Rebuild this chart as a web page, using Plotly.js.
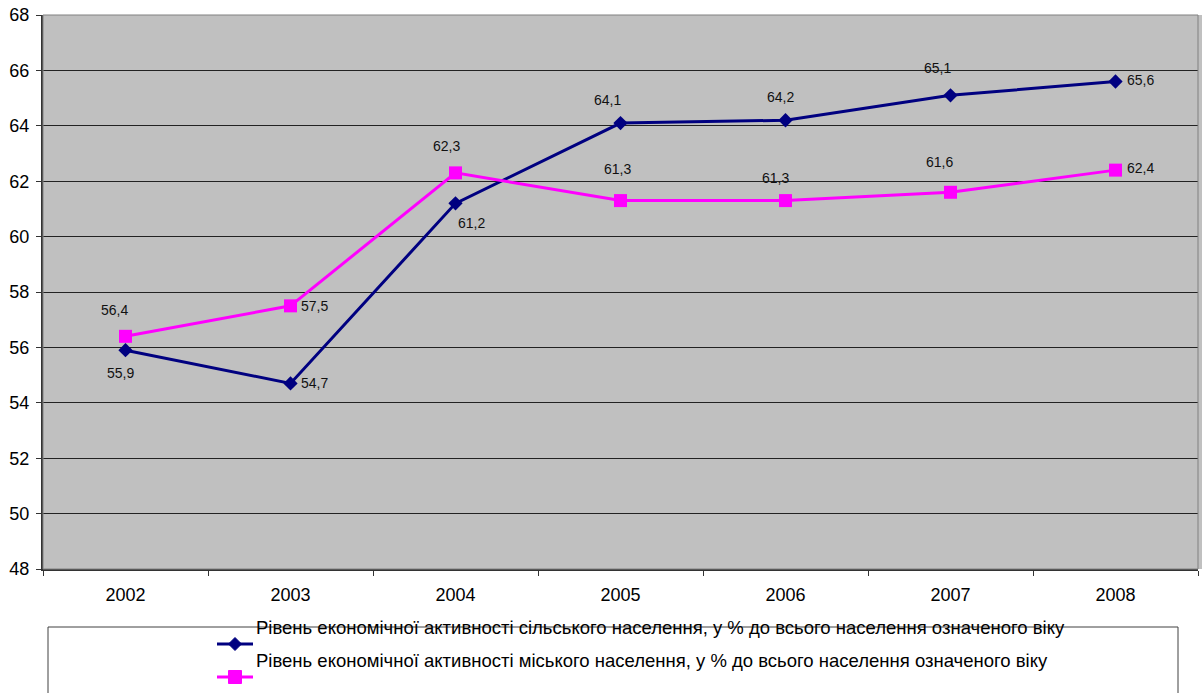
<!DOCTYPE html>
<html>
<head>
<meta charset="utf-8">
<script src="https://cdn.plot.ly/plotly-3.0.1.min.js"></script>
<style>
  html, body { margin: 0; padding: 0; background: #ffffff; }
  #chart { width: 1202px; height: 693px; }
</style>
</head>
<body>
<div id="chart"></div>
<script>
// Economic activity rate, % of population of the given age
const years = ['2002', '2003', '2004', '2005', '2006', '2007', '2008'];
const ruralValues = [55.9, 54.7, 61.2, 64.1, 64.2, 65.1, 65.6];
const urbanValues = [56.4, 57.5, 62.3, 61.3, 61.3, 61.6, 62.4];
const ruralName = 'Рівень економічної активності сільського населення, у % до всього населення означеного віку';
const urbanName = 'Рівень економічної активності міського населення, у % до всього населення означеного віку';
const yTicks = [48, 50, 52, 54, 56, 58, 60, 62, 64, 66, 68];

const RURAL_COLOR = '#000080';
const URBAN_COLOR = '#FF00FF';
const FONT = '"Liberation Sans", Arial, sans-serif';

// Pixel offsets of each value label relative to its point
const ruralLabelShift = [[-5, 23], [24, 0], [16, 20], [-13, -23], [-5, -23], [-13, -27], [25, -1]];
const urbanLabelShift = [[-11, -26], [24, 0], [-9, -27], [-3, -32], [-10, -23], [-11, -30], [25, -2]];

const fmt = v => v.toFixed(1).replace('.', ',');

const traces = [
  {
    x: years, y: ruralValues, name: ruralName, type: 'scatter', mode: 'lines+markers',
    line: { color: RURAL_COLOR, width: 3 },
    marker: { symbol: 'diamond', size: 11, color: RURAL_COLOR },
    hoverinfo: 'x+y', cliponaxis: false
  },
  {
    x: years, y: urbanValues, name: urbanName, type: 'scatter', mode: 'lines+markers',
    line: { color: URBAN_COLOR, width: 3 },
    marker: { symbol: 'square', size: 13, color: URBAN_COLOR },
    hoverinfo: 'x+y', cliponaxis: false
  }
];

const annotations = [];
function addLabels(values, shifts) {
  values.forEach((v, i) => {
    annotations.push({
      // category index of the year on the x axis
      x: i, y: v, xref: 'x', yref: 'y', text: fmt(v), showarrow: false,
      xshift: shifts[i][0], yshift: -shifts[i][1],
      font: { family: FONT, size: 14, color: '#111111' }
    });
  });
}
addLabels(ruralValues, ruralLabelShift);
addLabels(urbanValues, urbanLabelShift);

// Legend drawn in the bottom margin: plot area spans px 43..1198 and py 15..569
const plotL = 43, plotR = 1198, plotT = 15, plotB = 569;
const px = X => (X - plotL) / (plotR - plotL);
const py = Y => (plotB - Y) / (plotB - plotT);

const legendRows = [
  { name: ruralName, color: RURAL_COLOR, textY: 627, symY: 644, symbol: 'diamond' },
  { name: urbanName, color: URBAN_COLOR, textY: 660, symY: 677, symbol: 'square' }
];

const shapes = [
  // grey strip to the right of the plot area
  { type: 'rect', xref: 'paper', yref: 'paper', x0: 1, x1: px(1204), y0: 0, y1: 1,
    fillcolor: '#C0C0C0', line: { width: 0 }, layer: 'below' },
  // plot area border
  { type: 'rect', xref: 'paper', yref: 'paper', x0: 0, x1: 1, y0: 0, y1: 1,
    line: { color: '#808080', width: 1 }, layer: 'above' },
  // legend frame
  { type: 'rect', xref: 'paper', yref: 'paper', x0: px(48), x1: px(1178), y0: py(700), y1: py(627),
    line: { color: '#404040', width: 1 }, fillcolor: 'rgba(0,0,0,0)' }
];

legendRows.forEach(r => {
  const cx = 235;
  shapes.push({ type: 'line', xref: 'paper', yref: 'paper', x0: px(217), x1: px(253), y0: py(r.symY), y1: py(r.symY),
    line: { color: r.color, width: 3 } });
  if (r.symbol === 'diamond') {
    const h = 6.5;
    const path = `M ${px(cx)} ${py(r.symY - h)} L ${px(cx + h)} ${py(r.symY)} L ${px(cx)} ${py(r.symY + h)} L ${px(cx - h)} ${py(r.symY)} Z`;
    shapes.push({ type: 'path', xref: 'paper', yref: 'paper', path: path,
      fillcolor: r.color, line: { color: r.color, width: 1 } });
  } else {
    const h = 6.5;
    shapes.push({ type: 'rect', xref: 'paper', yref: 'paper', x0: px(cx - h), x1: px(cx + h), y0: py(r.symY + h), y1: py(r.symY - h),
      fillcolor: r.color, line: { color: r.color, width: 1 } });
  }
  annotations.push({
    xref: 'paper', yref: 'paper', x: px(254), y: py(r.textY), xanchor: 'left', yanchor: 'middle',
    text: r.name, showarrow: false, font: { family: FONT, size: 18.5, color: '#000000' }
  });
});

const layout = {
  width: 1202, height: 693,
  margin: { l: plotL, r: 1202 - plotR, t: plotT, b: 693 - plotB, pad: 0 },
  paper_bgcolor: '#FFFFFF',
  plot_bgcolor: '#C0C0C0',
  showlegend: false,
  font: { family: FONT, size: 16, color: '#000000' },
  xaxis: {
    type: 'category', range: [-0.5, 6.5], tickson: 'boundaries',
    ticks: 'outside', ticklen: 5, tickwidth: 1, tickcolor: '#333333',
    showline: true, linecolor: '#333333', linewidth: 2,
    showgrid: false, zeroline: false, ticklabelstandoff: 8,
    tickfont: { family: FONT, size: 18, color: '#000000' }
  },
  yaxis: {
    range: [48, 68], tickvals: yTicks, ticktext: yTicks.map(String),
    ticks: 'outside', ticklen: 5, tickwidth: 1, tickcolor: '#333333',
    showline: true, linecolor: '#333333', linewidth: 2,
    showgrid: true, gridcolor: '#222222', gridwidth: 1, zeroline: false,
    ticklabelstandoff: 3,
    tickfont: { family: FONT, size: 18, color: '#000000' }
  },
  shapes: shapes,
  annotations: annotations
};

Plotly.newPlot('chart', traces, layout, { displayModeBar: false, staticPlot: true });
</script>
</body>
</html>
